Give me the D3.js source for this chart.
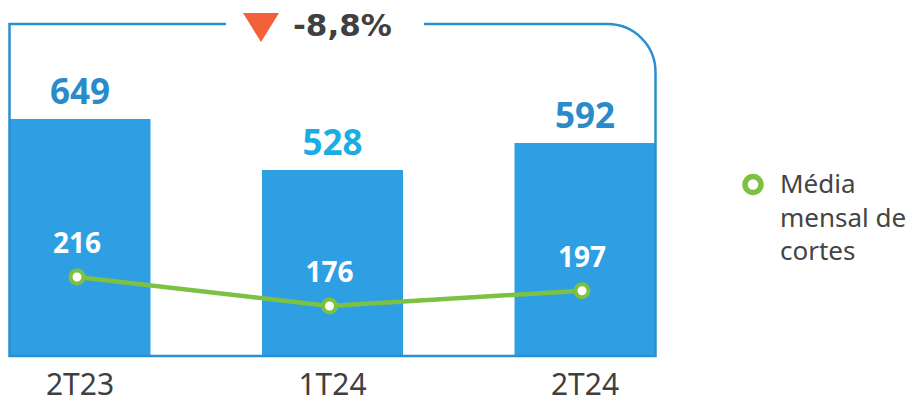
<!DOCTYPE html>
<html><head><meta charset="utf-8">
<script src="https://cdn.jsdelivr.net/npm/d3@7"></script>
<style>html,body{margin:0;padding:0;background:#fff;}svg{display:block;}</style>
</head><body>
<svg id="c" width="917" height="403"></svg>
<script>
const categories = ["2T23", "1T24", "2T24"];
const barValues = [649, 528, 592];
const lineValues = [216, 176, 197];
const changeLabel = "-8,8%";
const legendLines = ["Média", "mensal de", "cortes"];
const barLabelColors = ["#2A8BCB", "#1AADE2", "#2A8BCB"];

(function () {
const svg = d3.select("#c");
const x = d3.scaleBand().domain(categories).range([9.5, 655.5]).paddingInner(0.4416).paddingOuter(0);
const yBar = d3.scaleLinear().domain([89, 649]).range([355, 119]);
const yLine = d3.scaleLinear().domain([0, 216]).range([433.6, 277]);
const cx = d => x(d) + x.bandwidth() / 2;
const lx = d => cx(d) - 3;
const baseY = 355;

// bars
svg.selectAll("rect.bar").data(categories).join("rect")
  .attr("x", d => x(d)).attr("width", x.bandwidth())
  .attr("y", (d, i) => yBar(barValues[i]))
  .attr("height", (d, i) => baseY - yBar(barValues[i]))
  .attr("fill", "#2E9FE3");

// frame
const fTop = 24, fLeft = 9.5, fRight = 655.5, fBottom = 356, r = 48;
const p = d3.path();
p.moveTo(226, fTop); p.lineTo(fLeft, fTop); p.lineTo(fLeft, fBottom); p.lineTo(fRight, fBottom);
p.lineTo(fRight, fTop + r); p.arcTo(fRight, fTop, fRight - r, fTop, r); p.lineTo(424, fTop);
svg.append("path").attr("d", p.toString()).attr("fill", "none").attr("stroke", "#2A8FD0").attr("stroke-width", 2.5);

// change marker
svg.append("path").attr("d", "M243,13 L279,13 L261,42 Z").attr("fill", "#F26139");
svg.append("text").attr("x", 293).attr("y", 36).text(changeLabel)
  .attr("font-family", "DejaVu Sans").attr("font-weight", "bold").attr("font-size", 31).attr("fill", "#404040");

// bar labels
svg.selectAll("text.bl").data(categories).join("text")
  .attr("x", d => cx(d)).attr("y", (d, i) => yBar(barValues[i]) - 15)
  .attr("text-anchor", "middle").attr("font-family", "Noto Sans").attr("font-weight", "bold")
  .attr("font-size", 35).attr("fill", (d, i) => barLabelColors[i]).text((d, i) => barValues[i]);

// line
const line = d3.line().x(d => lx(d)).y((d, i) => yLine(lineValues[i]));
svg.append("path").datum(categories).attr("d", line).attr("fill", "none")
  .attr("stroke", "#7DC142").attr("stroke-width", 4.5);
svg.selectAll("circle.pt").data(categories).join("circle")
  .attr("cx", d => lx(d)).attr("cy", (d, i) => yLine(lineValues[i])).attr("r", 6.5)
  .attr("fill", "#fff").attr("stroke", "#7DC142").attr("stroke-width", 4);
svg.selectAll("text.ll").data(categories).join("text")
  .attr("x", d => lx(d)).attr("y", (d, i) => yLine(lineValues[i]) - 24)
  .attr("text-anchor", "middle").attr("font-family", "Noto Sans").attr("font-weight", "bold")
  .attr("font-size", 28).attr("fill", "#fff").text((d, i) => lineValues[i]);

// category labels
svg.selectAll("text.cat").data(categories).join("text")
  .attr("x", d => cx(d)).attr("y", 395).attr("text-anchor", "middle")
  .attr("font-family", "Noto Sans").attr("font-size", 30).attr("fill", "#3F3F3F").text(d => d);

// legend
svg.append("circle").attr("cx", 753).attr("cy", 184.5).attr("r", 8)
  .attr("fill", "#fff").attr("stroke", "#7DC142").attr("stroke-width", 5.5);
svg.selectAll("text.leg").data(legendLines).join("text")
  .attr("x", 780).attr("y", (d, i) => 193 + i * 33.5)
  .attr("font-family", "Noto Sans").attr("font-size", 26).attr("fill", "#444").text(d => d);
})();
</script>
</body></html>
